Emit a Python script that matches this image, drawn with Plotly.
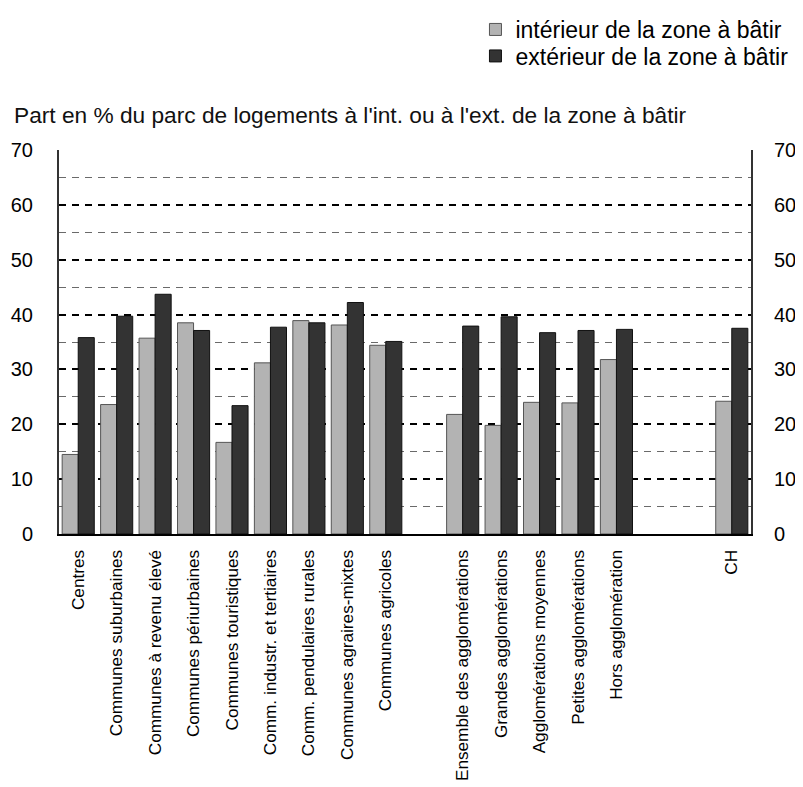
import plotly.graph_objects as go

categories = [
    "Centres", "Communes suburbaines", "Communes à revenu élevé",
    "Communes périurbaines", "Communes touristiques",
    "Comm. industr. et tertiaires", "Comm. pendulaires rurales",
    "Communes agraires-mixtes", "Communes agricoles", " ",
    "Ensemble des agglomérations", "Grandes agglomérations",
    "Agglomérations moyennes", "Petites agglomérations",
    "Hors agglomération", "  ", "   ", "CH",
]
interieur = [14.5, 23.6, 35.7, 38.5, 16.7, 31.2, 38.9, 38.1, 34.4, None,
             21.8, 19.8, 24.0, 23.9, 31.8, None, None, 24.2]
exterieur = [35.8, 39.7, 43.7, 37.1, 23.4, 37.7, 38.5, 42.2, 35.1, None,
             37.9, 39.6, 36.7, 37.1, 37.3, None, None, 37.5]
series_names = ["intérieur de la zone à bâtir", "extérieur de la zone à bâtir"]
y_ticks = [0, 10, 20, 30, 40, 50, 60, 70]
title_text = "Part en % du parc de logements à l'int. ou à l'ext. de la zone à bâtir"

FONT = "Liberation Sans, Arial, sans-serif"
DASH = "7px,6px"

fig = go.Figure()
fig.add_trace(go.Bar(
    x=categories, y=interieur, name=series_names[0],
    marker=dict(color="#b3b3b3", line=dict(color="#555555", width=1)),
    legend="legend",
))
fig.add_trace(go.Bar(
    x=categories, y=exterieur, name=series_names[1],
    marker=dict(color="#333333", line=dict(color="#111111", width=1)),
    legend="legend2",
))
# empty helper trace so that the right-hand axis is drawn
fig.add_trace(go.Scatter(
    x=categories, y=[None] * len(categories), yaxis="y2",
    showlegend=False, hoverinfo="skip", mode="markers",
))

legend_style = dict(
    xref="container", yref="container", xanchor="left", yanchor="top",
    font=dict(size=23, family=FONT, color="#000"),
    bgcolor="rgba(0,0,0,0)",
)

fig.update_layout(
    width=795, height=779,
    margin=dict(l=51, r=52, t=142, b=253, autoexpand=False),
    paper_bgcolor="white", plot_bgcolor="white",
    font=dict(family=FONT, color="#000000"),
    barmode="group", bargap=0.165, bargroupgap=0,
    showlegend=True,
    legend=dict(x=0.588, y=1.0, **legend_style),
    legend2=dict(x=0.588, y=0.966, **legend_style),
    xaxis=dict(
        type="category", categoryorder="array", categoryarray=categories,
        range=[-0.5, len(categories) - 0.5],
        tickangle=-90, tickfont=dict(size=17.2, family=FONT, color="#000"),
        showline=True, linecolor="#000", linewidth=2,
        showgrid=False, ticks="", ticklabelstandoff=7, automargin=False,
    ),
    yaxis=dict(
        range=[0, 70], tickvals=y_ticks,
        tickfont=dict(size=20, family=FONT, color="#000"),
        showline=True, linecolor="#333", linewidth=2,
        showgrid=True, gridcolor="#000", gridwidth=1.6, griddash=DASH,
        minor=dict(dtick=5, showgrid=True, gridcolor="#6a6a6a",
                   gridwidth=1.4, griddash=DASH),
        zeroline=False, ticks="", ticklabelstandoff=20, automargin=False,
    ),
    yaxis2=dict(
        range=[0, 70], tickvals=y_ticks, overlaying="y", side="right",
        anchor="x",
        tickfont=dict(size=20, family=FONT, color="#000"),
        showline=True, linecolor="#333", linewidth=2,
        showgrid=False, zeroline=False, ticks="", ticklabelstandoff=17,
        automargin=False,
    ),
    annotations=[dict(
        text=title_text, xref="paper", yref="paper",
        x=-0.0676, y=1.09, xanchor="left", yanchor="middle",
        showarrow=False, font=dict(size=22.7, family=FONT, color="#111"),
    )],
)

fig.write_html("out.html")
